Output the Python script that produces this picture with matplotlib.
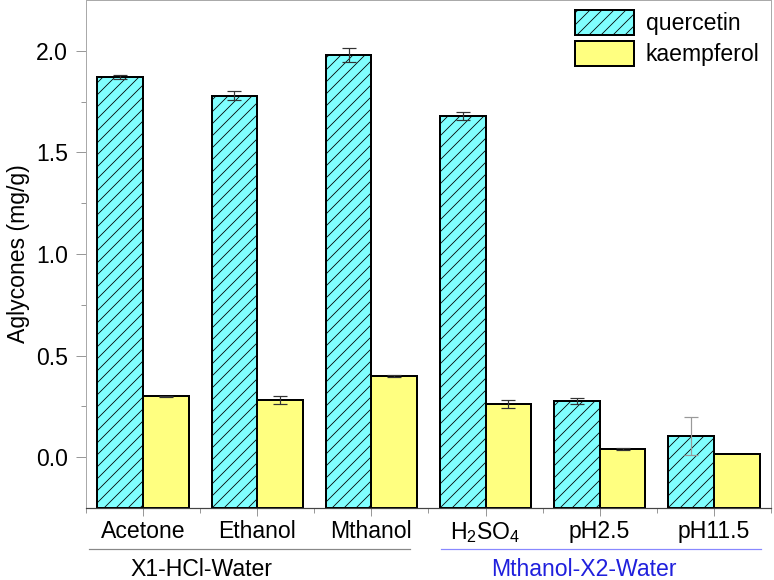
import numpy as np
import matplotlib
matplotlib.use('Agg')
import matplotlib.pyplot as plt
import matplotlib.transforms as mtransforms

plt.rcParams['font.family'] = ['Liberation Sans', 'DejaVu Sans']
plt.rcParams['mathtext.fontset'] = 'custom'
plt.rcParams['mathtext.rm'] = 'Liberation Sans'
plt.rcParams['mathtext.it'] = 'Liberation Sans'
plt.rcParams['hatch.linewidth'] = 0.8

# data
categories = ['Acetone', 'Ethanol', 'Mthanol', r'H$_2$SO$_4$', 'pH2.5', 'pH11.5']
quercetin = [1.87, 1.78, 1.98, 1.68, 0.275, 0.105]
quercetin_err = [0.01, 0.02, 0.035, 0.02, 0.015, 0.095]
kaempferol = [0.30, 0.28, 0.40, 0.26, 0.04, 0.015]
kaempferol_err = [0.003, 0.02, 0.005, 0.02, 0.003, 0.0]
groups = ['X1-HCl-Water', 'Mthanol-X2-Water']

ymin, ymax = -0.25, 2.25
fs = 23

fig = plt.figure(figsize=(774 / 72, 580 / 72), dpi=72)
ax = fig.add_axes([86 / 774, 72 / 580, 685 / 774, 508 / 580])

x = np.arange(len(categories))
w = 0.4
q = np.array(quercetin)
k = np.array(kaempferol)
ax.bar(x - w / 2, q - ymin, w, bottom=ymin, color='#80ffff', edgecolor='black',
       linewidth=2, hatch='//', label='quercetin', zorder=2)
ax.bar(x + w / 2, k - ymin, w, bottom=ymin, color='#ffff80', edgecolor='black',
       linewidth=2, label='kaempferol', zorder=2)

ecol = ['#333333'] * 5 + ['#999999']
for i in range(len(categories)):
    ax.errorbar(x[i] - w / 2, q[i], yerr=quercetin_err[i], color=ecol[i],
                capsize=7, elinewidth=1.2, capthick=1.2, zorder=3, fmt='none')
    if kaempferol_err[i] > 0:
        ax.errorbar(x[i] + w / 2, k[i], yerr=kaempferol_err[i], color='#333333',
                    capsize=7, elinewidth=1.2, capthick=1.2, zorder=3, fmt='none')

ax.set_xlim(-0.5, len(categories) - 0.5)
ax.set_ylim(ymin, ymax)
ax.set_yticks([0.0, 0.5, 1.0, 1.5, 2.0])
ax.set_yticks(np.arange(0.25, 2.25, 0.5), minor=True)
ax.set_xticks(x)
ax.set_xticklabels(categories)
ax.set_xticks(np.arange(-0.5, len(categories), 1.0), minor=True)
ax.tick_params(axis='y', which='major', length=10, width=1, color='#999999',
               labelsize=fs, pad=8)
ax.tick_params(axis='y', which='minor', length=5, width=1, color='#999999')
ax.tick_params(axis='x', which='major', length=8, width=1, color='#999999',
               labelsize=fs, pad=4)
ax.tick_params(axis='x', which='minor', length=5, width=1, color='#999999')

for s in ['left', 'top', 'right']:
    ax.spines[s].set_color('#aaaaaa')
    ax.spines[s].set_linewidth(1)
ax.spines['bottom'].set_color('#444444')
ax.spines['bottom'].set_linewidth(1.2)

ax.set_ylabel('Aglycones (mg/g)', fontsize=fs, labelpad=6)

# group brackets under the tick labels
trans = mtransforms.blended_transform_factory(ax.transData, ax.transAxes)
ax.plot([-0.47, 2.34], [-0.081, -0.081], color='#888888', lw=1.2,
        transform=trans, clip_on=False)
ax.plot([2.61, 5.41], [-0.081, -0.081], color='#8888ff', lw=1.2,
        transform=trans, clip_on=False)
ax.text(0.51, -0.122, groups[0], transform=trans, ha='center', va='center',
        fontsize=fs, color='black')
ax.text(3.86, -0.122, groups[1], transform=trans, ha='center', va='center',
        fontsize=fs, color='#2020dd')

ax.legend(loc='upper left', bbox_to_anchor=((575 - 86) / 685, 1 - 10 / 508),
          frameon=False, fontsize=fs, borderpad=0, borderaxespad=0,
          handlelength=2.57, handleheight=1.3, labelspacing=0.25,
          handletextpad=0.5)

fig.savefig('out.png', dpi=72)
